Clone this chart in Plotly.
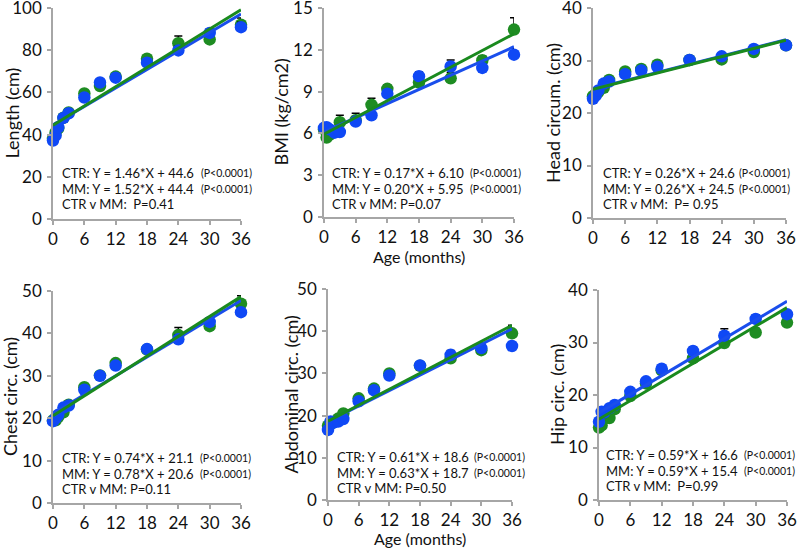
import plotly.graph_objects as go

# ---------------- data ----------------
age = [0, 0.5, 1, 2, 3, 6, 9, 12, 18, 24, 30, 36]
x_ticks = [0, 6, 12, 18, 24, 30, 36]

length_ctr = [37.2, 39.6, 43.5, 47.9, 50.1, 57.6, 64.7, 67.0, 74.1, 79.9, 88.2, 90.9]
length_mm = [38.0, 41.0, 43.0, 48.0, 50.5, 59.5, 63.0, 67.5, 76.0, 83.3, 85.1, 92.1]
length_ctr_err = [0.5, 0.5, 0.5, 0.6, 0.6, 1.0, 1.0, 1.2, 1.5, 2.0, 2.0, 2.3]
length_mm_err = [0.5, 0.5, 0.6, 0.6, 0.6, 1.0, 1.0, 1.2, 1.5, 3.4, 2.0, 3.2]

bmi_ctr = [6.4, 6.45, 6.3, 6.05, 6.1, 6.85, 7.3, 8.85, 10.1, 10.8, 10.7, 11.65]
bmi_mm = [6.3, 5.7, 5.9, 6.1, 6.8, 6.95, 8.05, 9.2, 9.65, 9.95, 11.25, 13.45]
bmi_ctr_err = [0.1, 0.1, 0.1, 0.1, 0.1, 0.2, 0.2, 0.2, 0.3, 0.47, 0.3, 0.47]
bmi_mm_err = [0.1, 0.1, 0.1, 0.2, 0.5, 0.5, 0.47, 0.3, 0.3, 0.42, 0.3, 0.85]

head_ctr = [22.7, 23.3, 24.3, 25.6, 26.0, 27.4, 28.1, 28.8, 30.1, 30.8, 32.2, 32.9]
head_mm = [23.2, 23.5, 24.0, 24.8, 26.3, 27.9, 28.4, 29.2, 30.1, 30.2, 31.6, 32.9]
head_ctr_err = [0.3, 0.3, 0.3, 0.3, 0.3, 0.4, 0.4, 0.5, 0.5, 0.6, 0.6, 0.7]
head_mm_err = [0.3, 0.3, 0.3, 0.3, 0.3, 0.4, 0.4, 0.5, 0.5, 0.6, 0.6, 0.7]

chest_ctr = [19.3, 20.0, 20.8, 22.5, 23.0, 26.7, 30.0, 32.4, 36.3, 38.6, 42.7, 45.0]
chest_mm = [19.5, 19.5, 20.3, 21.4, 23.2, 27.3, 30.1, 33.0, 36.2, 39.6, 41.7, 47.0]
chest_ctr_err = [0.3, 0.3, 0.3, 0.4, 0.4, 0.5, 0.5, 0.6, 0.8, 1.0, 1.0, 1.0]
chest_mm_err = [0.3, 0.3, 0.3, 0.4, 0.4, 0.5, 0.5, 0.6, 0.8, 1.8, 1.0, 1.9]

abd_ctr = [16.6, 18.6, 18.3, 18.6, 19.2, 23.4, 26.0, 29.5, 31.9, 34.4, 36.0, 36.5]
abd_mm = [17.6, 18.0, 18.5, 19.3, 20.5, 24.1, 26.4, 30.0, 31.8, 33.6, 35.5, 39.5]
abd_ctr_err = [0.3, 0.3, 0.3, 0.4, 0.4, 0.5, 0.5, 0.6, 0.8, 1.0, 1.0, 1.0]
abd_mm_err = [0.3, 0.3, 0.3, 0.4, 0.4, 0.5, 0.5, 0.6, 0.8, 1.0, 1.0, 1.9]

hip_ctr = [14.9, 16.8, 16.7, 17.5, 18.1, 20.6, 22.6, 25.0, 28.4, 31.3, 34.5, 35.4]
hip_mm = [13.8, 14.2, 15.5, 15.6, 17.3, 19.8, 22.2, 24.7, 27.0, 29.9, 31.9, 33.8]
hip_ctr_err = [0.3, 0.3, 0.3, 0.4, 0.4, 0.5, 0.5, 0.6, 0.8, 1.3, 0.8, 0.9]
hip_mm_err = [0.3, 0.3, 0.3, 0.4, 0.4, 0.5, 0.5, 0.6, 0.8, 0.8, 0.8, 0.9]

# regression fits (slope, intercept) as printed
fit_ctr = {"length": (1.46, 44.6), "bmi": (0.17, 6.10), "head": (0.26, 24.6),
           "chest": (0.74, 21.1), "abd": (0.61, 18.6), "hip": (0.59, 16.6)}
fit_mm = {"length": (1.52, 44.4), "bmi": (0.20, 5.95), "head": (0.26, 24.5),
          "chest": (0.78, 20.6), "abd": (0.63, 18.7), "hip": (0.59, 15.4)}
fit_text_ctr = {"length": "CTR: Y = 1.46*X + 44.6", "bmi": "CTR: Y = 0.17*X + 6.10",
                "head": "CTR: Y = 0.26*X + 24.6", "chest": "CTR: Y = 0.74*X + 21.1",
                "abd": "CTR: Y = 0.61*X + 18.6", "hip": "CTR: Y = 0.59*X + 16.6"}
fit_text_mm = {"length": "MM: Y = 1.52*X + 44.4", "bmi": "MM: Y = 0.20*X + 5.95",
               "head": "MM: Y = 0.26*X + 24.5", "chest": "MM: Y = 0.78*X + 20.6",
               "abd": "MM: Y = 0.63*X + 18.7", "hip": "MM: Y = 0.59*X + 15.4"}
fit_text_cmp = {"length": "CTR v MM:  P=0.41", "bmi": "CTR v MM: P=0.07",
                "head": "CTR v MM:  P= 0.95", "chest": "CTR v MM: P=0.11",
                "abd": "CTR v MM: P=0.50", "hip": "CTR v MM:  P=0.99"}
p_text = "(P&lt;0.0001)"

y_titles = {"length": "Length (cm)", "bmi": "BMI (kg/cm2)", "head": "Head circum. (cm)",
            "chest": "Chest circ. (cm)", "abd": "Abdominal circ. (cm)", "hip": "Hip circ. (cm)"}
y_max = {"length": 100, "bmi": 15, "head": 40, "chest": 50, "abd": 50, "hip": 40}
y_dtick = {"length": 20, "bmi": 3, "head": 10, "chest": 10, "abd": 10, "hip": 10}

series = {
    "length": (length_ctr, length_mm, length_ctr_err, length_mm_err),
    "bmi": (bmi_ctr, bmi_mm, bmi_ctr_err, bmi_mm_err),
    "head": (head_ctr, head_mm, head_ctr_err, head_mm_err),
    "chest": (chest_ctr, chest_mm, chest_ctr_err, chest_mm_err),
    "abd": (abd_ctr, abd_mm, abd_ctr_err, abd_mm_err),
    "hip": (hip_ctr, hip_mm, hip_ctr_err, hip_mm_err),
}

# ---------------- layout geometry (pixels) ----------------
W, H = 800, 549
# key: (x0, x1, ytop, ybottom, ytitle_x, text_x, text_y_first, p_x, age_title_y)
geom = {
    "length": (53, 241, 8, 219, 11, 60, 173, 199, None),
    "bmi": (324, 514, 8, 217, 280, 330, 173, 468, 256),
    "head": (593, 786, 8, 218, 553, 601, 173, 737, None),
    "chest": (53, 241, 291, 503, 10, 60, 458, 198, None),
    "abd": (328, 512, 289, 500, 290, 335, 457, 472, 538),
    "hip": (599, 787, 290, 500, 557, 604, 455, 742, None),
}
line_gap = 15.5

BLUE = "#0F48F5"
GREEN = "#1E8C22"
BLUE_LINE = "#1A4EEC"
GREEN_LINE = "#1A8A1E"
FONT = "Lato, Carlito, 'Liberation Sans', sans-serif"

fig = go.Figure()
annotations = []
layout_axes = {}

for i, key in enumerate(["length", "bmi", "head", "chest", "abd", "hip"]):
    n = i + 1
    xa = "x" if n == 1 else f"x{n}"
    ya = "y" if n == 1 else f"y{n}"
    ctr, mm, ctr_err, mm_err = series[key]
    x0, x1, yt, yb, ytx, tx, ty, px, agey = geom[key]

    # green (MM) markers first, then blue (CTR)
    fig.add_trace(go.Scatter(
        x=age, y=mm, mode="markers", xaxis=xa, yaxis=ya, cliponaxis=False,
        marker=dict(size=12.5, color=GREEN, line=dict(width=0)),
        error_y=dict(type="data", array=mm_err, arrayminus=[0] * len(mm_err),
                     symmetric=False, color="black", thickness=1.5, width=4),
        showlegend=False))
    fig.add_trace(go.Scatter(
        x=age, y=ctr, mode="markers", xaxis=xa, yaxis=ya, cliponaxis=False,
        marker=dict(size=12.5, color=BLUE, line=dict(width=0)),
        error_y=dict(type="data", array=ctr_err, arrayminus=[0] * len(ctr_err),
                     symmetric=False, color="black", thickness=1.5, width=4),
        showlegend=False))
    # regression lines from printed coefficients
    xs = [x_ticks[0], x_ticks[-1]]
    s, b = fit_ctr[key]
    fig.add_trace(go.Scatter(x=xs, y=[s * v + b for v in xs], mode="lines",
                             xaxis=xa, yaxis=ya, cliponaxis=False,
                             line=dict(color=BLUE_LINE, width=3), showlegend=False))
    s, b = fit_mm[key]
    fig.add_trace(go.Scatter(x=xs, y=[s * v + b for v in xs], mode="lines",
                             xaxis=xa, yaxis=ya, cliponaxis=False,
                             line=dict(color=GREEN_LINE, width=3), showlegend=False))

    axis_common = dict(showline=True, linecolor="#A6A6A6", linewidth=1.5,
                       ticks="outside", ticklen=4, tickcolor="#A6A6A6", tickwidth=1.5,
                       showgrid=False, zeroline=False, automargin=False,
                       ticklabeloverflow="allow",
                       tickfont=dict(family=FONT, size=17, color="#111111"))
    layout_axes["xaxis" if n == 1 else f"xaxis{n}"] = dict(
        axis_common, domain=[x0 / W, x1 / W], range=[0, 36],
        tickvals=x_ticks, anchor=ya, fixedrange=True)
    layout_axes["yaxis" if n == 1 else f"yaxis{n}"] = dict(
        axis_common, domain=[1 - yb / H, 1 - yt / H], range=[0, y_max[key]],
        dtick=y_dtick[key], tick0=0, anchor=xa, fixedrange=True, ticklabelstandoff=2)

    # y title
    annotations.append(dict(text=y_titles[key], x=ytx / W, y=1 - (yt + yb) / 2 / H,
                            xref="paper", yref="paper", showarrow=False, textangle=-90,
                            xanchor="center", yanchor="middle",
                            font=dict(family=FONT, size=18, color="#111111")))
    # fit texts
    for j, t in enumerate([fit_text_ctr[key], fit_text_mm[key], fit_text_cmp[key]]):
        annotations.append(dict(text=t, x=tx / W, y=1 - (ty + j * line_gap) / H,
                                xref="paper", yref="paper", showarrow=False,
                                xanchor="left", yanchor="middle",
                                font=dict(family=FONT, size=13, color="#111111")))
    for j in range(2):
        annotations.append(dict(text=p_text, x=px / W, y=1 - (ty + j * line_gap) / H,
                                xref="paper", yref="paper", showarrow=False,
                                xanchor="left", yanchor="middle",
                                font=dict(family=FONT, size=10.5, color="#111111")))
    if agey is not None:
        annotations.append(dict(text="Age (months)", x=(x0 + x1) / 2 / W, y=1 - agey / H,
                                xref="paper", yref="paper", showarrow=False,
                                xanchor="center", yanchor="middle",
                                font=dict(family=FONT, size=16, color="#111111")))

fig.update_layout(
    width=W, height=H, margin=dict(l=0, r=0, t=0, b=0),
    paper_bgcolor="white", plot_bgcolor="white",
    annotations=annotations, showlegend=False, **layout_axes)

fig.write_html("out.html", config={"displayModeBar": False},
               post_script="document.body.style.margin='0';document.body.style.overflow='hidden';")
